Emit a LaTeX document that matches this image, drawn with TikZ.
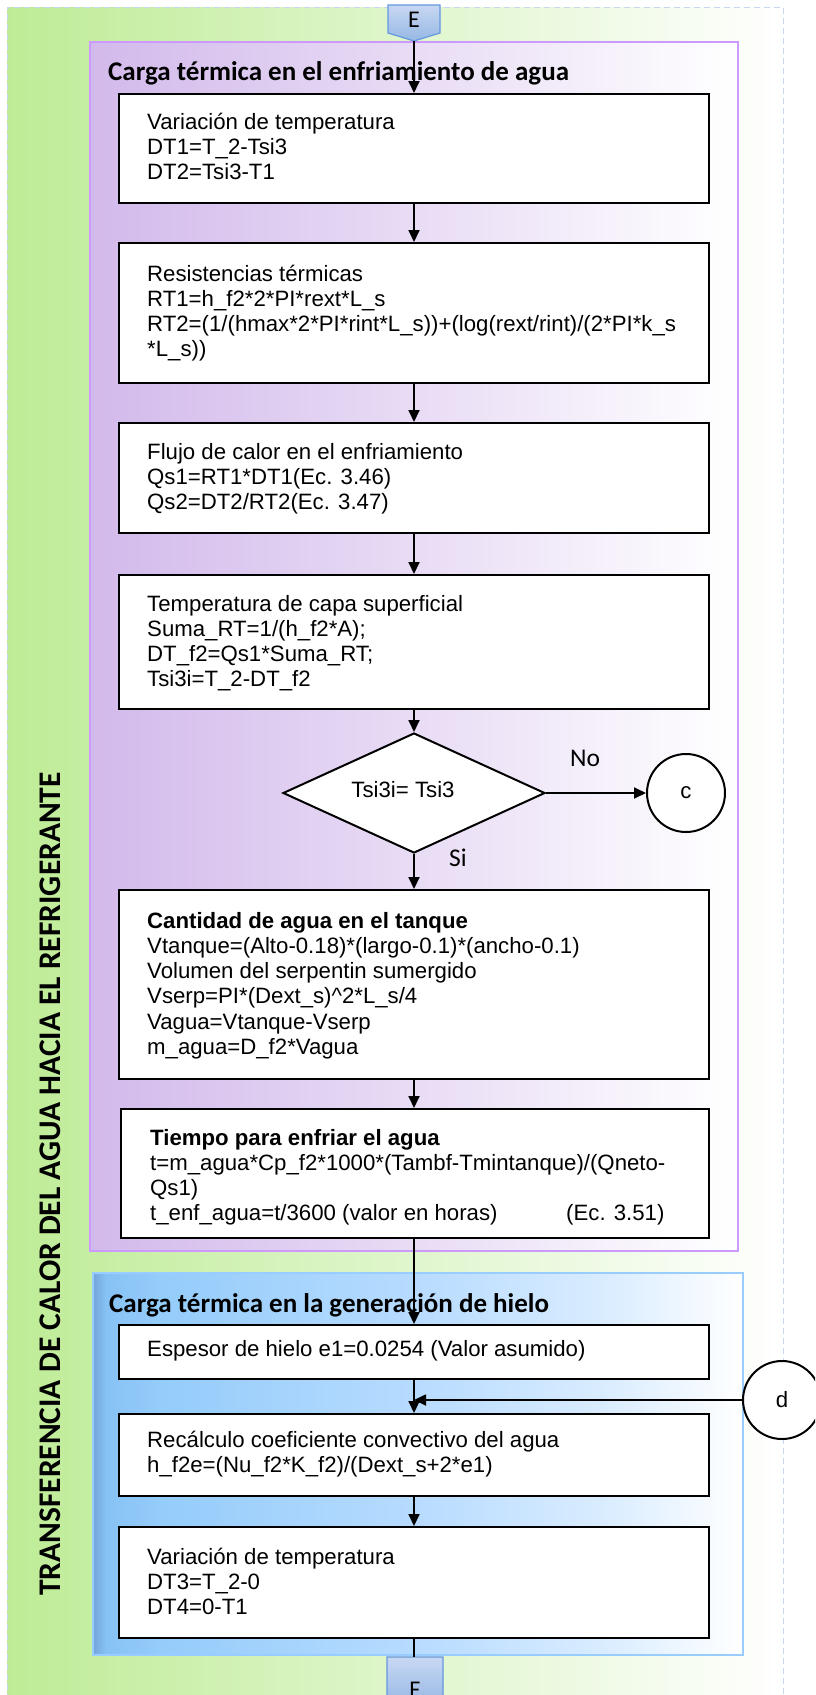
\documentclass[tikz,border=0pt]{standalone}
\usepackage{fontspec}
\setmainfont{Liberation Sans}
\newfontfamily\bodyf{Liberation Sans}
\newfontfamily\calf{Carlito}
\usetikzlibrary{arrows.meta,shapes.geometric}

\definecolor{greenL}{RGB}{190,236,150}
\definecolor{bgborder}{RGB}{200,214,240}
\definecolor{purpL}{RGB}{210,185,235}
\definecolor{purpB}{RGB}{204,153,255}
\definecolor{blueB}{RGB}{153,204,255}
\definecolor{connTop}{RGB}{200,216,242}
\definecolor{connBot}{RGB}{150,183,228}
\definecolor{connB}{RGB}{100,150,225}

\pgfdeclarehorizontalshading{bluepanel}{100bp}{%
  rgb(0bp)=(0.45,0.65,0.86);
  rgb(25bp)=(0.45,0.65,0.86);
  rgb(26bp)=(0.53,0.76,0.96);
  rgb(30bp)=(0.58,0.80,0.98);
  rgb(50bp)=(0.72,0.86,1.00);
  rgb(65bp)=(0.86,0.93,1.00);
  rgb(75bp)=(1,1,1);
  rgb(100bp)=(1,1,1)}

\newcommand{\boxtext}[1]{\parbox[t]{700pt}{\raggedright\bodyf\fontsize{22.2}{25.3}\selectfont #1}}

\begin{document}
\begin{tikzpicture}[x=1pt,y=-1pt,
  stepbox/.style={draw=black, line width=2pt, fill=white, rectangle, inner sep=0pt},
  txt/.style={anchor=base west, inner sep=0pt},
  arr/.style={draw=black, line width=1.8pt, -{Triangle[length=12pt,width=11pt]}},
  plain/.style={draw=black, line width=1.8pt},
  heading/.style={anchor=base west, inner sep=0pt, font=\calf\bfseries\fontsize{27}{32}\selectfont},
  lbl/.style={inner sep=0pt, font=\calf\fontsize{25.5}{30}\selectfont},
  conn/.style={top color=connTop, bottom color=connBot, draw=connB, line width=1.2pt},
  ref/.style={circle, draw=black, line width=2pt, fill=white, minimum size=78pt, inner sep=0pt,
              font=\bodyf\fontsize{22.2}{24}\selectfont}]

\useasboundingbox (0,0) rectangle (815,1695);
\clip (0,0) rectangle (815,1695);

% outer swimlane
\path[left color=greenL, right color=white] (7,7) rectangle (783,1720);
\draw[bgborder, line width=1pt, dash pattern=on 6pt off 4pt] (7,1720) -- (7,7) -- (783,7) -- (783,1720);

% section panels
\shadedraw[left color=purpL, right color=white, draw=purpB, line width=1.2pt] (90,42) rectangle (738,1251);
\shadedraw[shading=bluepanel, draw=blueB, line width=1.2pt] (93,1273) rectangle (743,1655);

% vertical lane title
\node[rotate=90, inner sep=0pt, font=\calf\bfseries\fontsize{31.5}{36}\selectfont] (lane) at (50,1184)
  {TRANSFERENCIA DE CALOR DEL AGUA HACIA EL REFRIGERANTE};

% section headings
\node[heading] (h1) at (108,80) {Carga térmica en el enfriamiento de agua};
\node[heading] (h2) at (109,1312) {Carga térmica en la generación de hielo};

% off-page connectors
\shadedraw[conn] (388,5) -- (440,5) -- (440,33) -- (414,41) -- (388,33) -- cycle;
\node[inner sep=0pt, font=\calf\fontsize{24}{28}\selectfont] (E) at (414,20) {E};
\coordinate (Etip) at (414,41);

\shadedraw[conn] (387,1657) -- (443,1657) -- (443,1697) -- (415,1705) -- (387,1697) -- cycle;
\node[inner sep=0pt, font=\calf\fontsize{24}{28}\selectfont] (F) at (415,1690) {F};
\coordinate (Ftop) at (414,1657);

% process boxes
\node[stepbox, minimum width=590pt, minimum height=109pt] (b1) at (414,148.5) {};
\node[stepbox, minimum width=590pt, minimum height=140pt] (b2) at (414,313) {};
\node[stepbox, minimum width=590pt, minimum height=110pt] (b3) at (414,478) {};
\node[stepbox, minimum width=590pt, minimum height=134pt] (b4) at (414,642) {};
\node[stepbox, minimum width=590pt, minimum height=189pt] (b5) at (414,984.5) {};
\node[stepbox, minimum width=588pt, minimum height=129pt] (b6) at (415,1173.5) {};
\node[stepbox, minimum width=590pt, minimum height=54pt] (b7) at (414,1352) {};
\node[stepbox, minimum width=590pt, minimum height=82pt] (b8) at (414,1455) {};
\node[stepbox, minimum width=590pt, minimum height=111pt] (b9) at (414,1582.5) {};

\node[txt] (t1) at (147,129) {\boxtext{Variación de temperatura\\DT1=T\_2-Tsi3\\DT2=Tsi3-T1}};
\node[txt] (t2) at (147,281) {\boxtext{Resistencias térmicas\\RT1=h\_f2*2*PI*rext*L\_s\\RT2=(1/(hmax*2*PI*rint*L\_s))+(log(rext/rint)/(2*PI*k\_s\\{}*L\_s))}};
\node[txt] (t3) at (147,459) {\boxtext{Flujo de calor en el enfriamiento\\Qs1=RT1*DT1(Ec. 3.46)\\Qs2=DT2/RT2(Ec. 3.47)}};
\node[txt] (t4) at (147,611) {\boxtext{Temperatura de capa superficial\\Suma\_RT=1/(h\_f2*A);\\DT\_f2=Qs1*Suma\_RT;\\Tsi3i=T\_2-DT\_f2}};
\node[txt] (t5) at (147,928) {\boxtext{\textbf{Cantidad de agua en el tanque}\\Vtanque=(Alto-0.18)*(largo-0.1)*(ancho-0.1)\\Volumen del serpentin sumergido\\Vserp=PI*(Dext\_s)\textasciicircum 2*L\_s/4\\Vagua=Vtanque-Vserp\\m\_agua=D\_f2*Vagua}};
\node[txt] (t6) at (150,1145) {\boxtext{\textbf{Tiempo para enfriar el agua}\\t=m\_agua*Cp\_f2*1000*(Tambf-Tmintanque)/(Qneto-\\Qs1)\\\makebox[416pt][l]{t\_enf\_agua=t/3600 (valor en horas)}(Ec. 3.51)}};
\node[txt] (t7) at (147,1356) {\boxtext{Espesor de hielo e1=0.0254 (Valor asumido)}};
\node[txt] (t8) at (147,1447) {\boxtext{Recálculo coeficiente convectivo del agua\\h\_f2e=(Nu\_f2*K\_f2)/(Dext\_s+2*e1)}};
\node[txt] (t9) at (147,1564) {\boxtext{Variación de temperatura\\DT3=T\_2-0\\DT4=0-T1}};

% decision
\node[diamond, draw=black, line width=2pt, fill=white, minimum width=262pt, minimum height=120pt, inner sep=0pt] (dia) at (414,793) {};
\node[inner sep=0pt, font=\bodyf\fontsize{22.2}{24}\selectfont] (dtxt) at (403,790) {Tsi3i= Tsi3};

% on-page references
\node[ref] (c) at (686,793) {c};
\node[ref] (d) at (782,1400) {d};
\coordinate (join) at (414,1400);

% branch labels
\node[lbl] (no) at (585,758) {No};
\node[lbl] (si) at (458,858) {Si};

% flow
\draw[arr] (Etip) -- (b1.north);
\draw[arr] (b1.south) -- (b2.north);
\draw[arr] (b2.south) -- (b3.north);
\draw[arr] (b3.south) -- (b4.north);
\draw[arr] (b4.south) -- (dia.north);
\draw[arr] (dia.east) -- (c.west);
\draw[arr] (dia.south) -- (b5.north);
\draw[arr] (b5.south) -- (b6.north -| b5.south);
\draw[arr] (b6.south -| b7.north) -- (b7.north);
\draw[arr] (b7.south) -- (b8.north);
\draw[arr] (d.west) -- (join);
\draw[arr] (b8.south) -- (b9.north);
\draw[plain] (b9.south) -- (Ftop);

\end{tikzpicture}
\end{document}
